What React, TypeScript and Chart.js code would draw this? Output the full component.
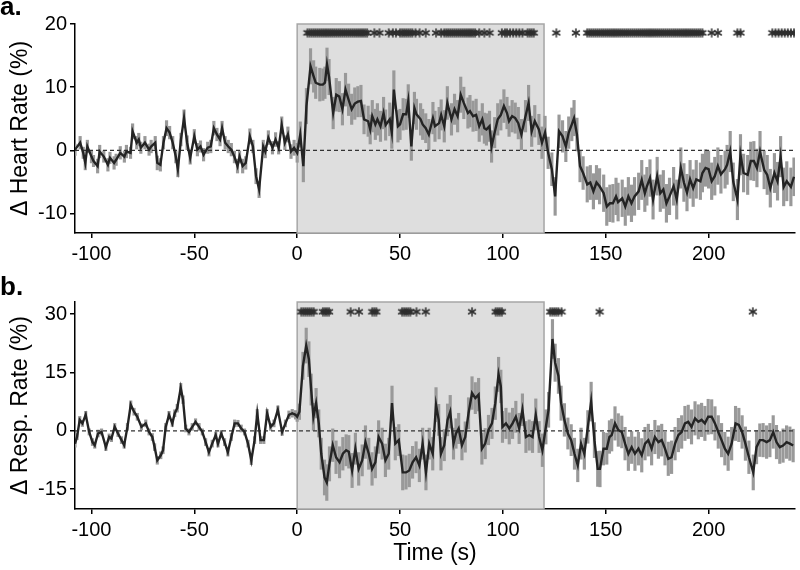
import React, { useEffect, useRef } from 'react';
import { Chart, registerables } from 'chart.js';

Chart.register(...registerables);

// ---------- data ----------
const X_TICKS = [-100, -50, 0, 50, 100, 150, 200];
const HR_TICKS = [-10, 0, 10, 20];
const RR_TICKS = [-15, 0, 15, 30];
const STIM_START = 0;
const STIM_END = 120;

// Panel a: heart rate
const HR_TIME = [
  -108, -105.5, -104, -103, -102, -100, -99, -97, -96, -94,
  -92, -91, -89, -88, -86, -84, -83, -81, -80, -78,
  -77, -76, -74, -72, -71, -69, -68, -66.5, -65, -63.5,
  -62, -60.5, -59, -58, -56.5, -55, -53.5, -52, -50, -48.5,
  -47, -45.5, -43.5, -42, -40.5, -39, -37.5, -36.5, -35, -33.5,
  -32, -30.5, -29, -28, -26.5, -25, -23, -21.5, -20, -18.5,
  -16.5, -15.5, -14, -12, -10.5, -9, -7.5, -6, -4.5, -3,
  -1.5, 0, 1.5, 3, 4.5, 6.5, 8, 9, 11, 12.5,
  13.5, 14.5, 15.5, 17.5, 19, 20.5, 22, 23.5, 25, 26.5,
  28, 29.5, 31, 32.5, 34.5, 35.5, 36.5, 38, 39, 40.5,
  42, 43, 45, 46, 47, 49, 50, 51.5, 53, 54,
  55.5, 57, 58, 60, 61, 62.5, 64, 66, 67, 69,
  70, 71.5, 73, 75, 76.5, 78, 79.5, 81, 83, 84,
  85.5, 87, 88.5, 90, 91, 92, 93.5, 94.5, 96, 97.5,
  99, 100.5, 102, 103, 104.5, 106, 107.5, 109, 111, 112.5,
  114, 115.5, 117.5, 119, 120.5, 122, 123.8, 125.4, 127.3, 129,
  130.6, 132, 133.5, 134.6, 136, 137.5, 139, 141, 142.5, 144,
  145.5, 147, 149, 150.5, 152, 153.5, 155, 156, 158, 159.5,
  161, 162.5, 164, 166, 167.5, 169, 170, 171.5, 173, 175,
  176.5, 178, 179.5, 181, 183, 184.5, 186.5, 188, 189.5, 191,
  192.5, 194, 196, 197, 198.5, 200, 201.5, 203, 204.5, 206,
  208, 209, 210.5, 212, 214, 215.5, 217, 219, 220.5, 222,
  223.5, 225, 227, 228.5, 230, 232, 233.5, 235, 236.5, 238,
  240, 241.5,
];
const HR_MEAN = [
  0.1, 1.2, -0.4, -2.0, 0.6, -1.0, -1.7, -2.5, -0.2, -1.0,
  -2.3, -1.2, -2.0, -1.5, -0.4, -1.0, -0.2, -0.4, 3.0, 1.2,
  1.7, 0.4, 1.2, 0.1, 0.6, 1.2, -2.0, -2.3, 1.2, 3.5,
  2.8, 1.2, -1.0, -3.0, 1.7, 5.1, 1.2, -1.2, 2.2, 0.1,
  0.6, -0.7, 0.4, 0.6, 3.5, 2.5, 1.7, 3.5, 1.2, 0.6,
  0.1, -1.0, -2.5, -1.0, -2.5, -2.0, 2.2, 0.6, -4.1, -6.2,
  0.6, -0.2, 2.0, 0.4, 1.7, 0.4, 4.0, 1.2, 2.5, -0.2,
  0.4, -0.4, 2.5, -2.5, 7.0, 13.3, 11.7, 10.7, 10.4, 10.4,
  10.7, 13.6, 11.6, 5.9, 8.8, 8.5, 6.5, 9.6, 8.0, 6.5,
  7.4, 7.7, 7.8, 4.9, 4.6, 3.3, 5.4, 4.1, 4.9, 3.8,
  5.9, 4.0, 4.9, 2.8, 9.6, 3.8, 4.1, 5.7, 5.7, 7.8,
  0.6, 6.7, 5.7, 4.9, 4.1, 3.5, 2.5, 5.1, 3.8, 4.3,
  5.6, 3.8, 7.5, 4.9, 6.5, 5.4, 8.8, 7.5, 5.9, 6.2,
  5.4, 5.6, 3.8, 4.9, 3.5, 3.3, 3.8, 0.6, 2.8, 4.9,
  5.6, 7.0, 5.9, 4.6, 5.4, 5.1, 4.3, 2.5, 5.4, 7.5,
  3.0, 4.6, 3.3, 1.2, 2.8, -0.4, -3.0, -7.3, 3.0, 2.2,
  0.6, 2.8, 4.1, 5.1, 2.5, -2.5, -3.6, -5.4, -5.1, -6.5,
  -5.1, -5.7, -6.8, -8.9, -8.4, -8.4, -7.3, -8.2, -7.6, -8.9,
  -7.3, -8.4, -7.3, -6.5, -4.7, -6.8, -5.7, -4.4, -7.8, -4.1,
  -6.8, -6.2, -8.4, -7.3, -5.7, -7.8, -2.8, -5.1, -6.7, -4.6,
  -6.0, -4.6, -4.9, -3.6, -2.8, -3.0, -4.9, -4.1, -2.5, -3.8,
  -3.0, -2.3, -0.2, -5.0, -7.8, -0.7, -3.6, -3.9, -1.7, -1.7,
  -2.8, -0.2, -3.1, -3.9, -6.0, -3.6, -4.9, -1.0, -5.8, -4.9,
  -5.8, -4.2,
];
const HR_SEM = [
  0.9, 1.0, 0.9, 1.1, 1.0, 1.0, 0.9, 1.1, 1.0, 0.9,
  1.0, 0.9, 1.0, 0.9, 1.0, 0.9, 1.0, 0.9, 1.2, 1.0,
  1.0, 0.9, 1.0, 0.9, 1.0, 1.0, 1.1, 1.0, 1.0, 1.2,
  1.0, 1.0, 1.0, 1.2, 1.0, 1.3, 1.1, 1.0, 1.1, 1.0,
  0.9, 1.0, 0.9, 1.0, 1.1, 1.0, 1.0, 1.1, 1.0, 1.0,
  1.0, 1.0, 1.1, 1.0, 1.1, 1.0, 1.2, 1.0, 1.2, 1.3,
  1.0, 1.0, 1.1, 1.0, 1.1, 1.0, 1.3, 1.1, 1.2, 1.1,
  1.2, 1.5, 2.0, 2.5, 2.8, 2.8, 2.5, 2.5, 2.6, 2.5,
  2.5, 2.6, 2.8, 2.5, 2.6, 2.4, 2.5, 2.6, 2.5, 2.4,
  2.5, 2.4, 2.5, 2.3, 2.4, 2.3, 2.5, 2.4, 2.5, 2.4,
  2.5, 2.4, 2.6, 2.5, 3.0, 2.5, 2.4, 2.5, 2.4, 2.6,
  2.2, 2.5, 2.4, 2.5, 2.4, 2.3, 2.4, 2.5, 2.4, 2.5,
  2.4, 2.5, 2.6, 2.5, 2.4, 2.5, 2.8, 2.5, 2.4, 2.5,
  2.4, 2.5, 2.4, 2.5, 2.4, 2.5, 2.4, 2.5, 2.4, 2.5,
  2.4, 2.6, 2.5, 2.4, 2.5, 2.4, 2.5, 2.4, 2.5, 2.8,
  2.4, 2.5, 2.4, 2.5, 2.6, 2.5, 2.6, 3.0, 2.6, 2.5,
  2.4, 2.5, 2.6, 2.8, 2.6, 2.5, 2.6, 2.8, 2.7, 2.8,
  2.7, 2.8, 2.9, 3.0, 2.9, 3.0, 2.9, 3.0, 2.9, 3.0,
  3.0, 2.9, 3.0, 2.9, 3.1, 2.9, 3.0, 2.9, 3.1, 3.0,
  2.9, 3.0, 3.0, 2.9, 3.0, 3.1, 3.2, 3.0, 2.9, 3.0,
  2.9, 3.0, 2.9, 3.0, 2.9, 3.0, 2.9, 3.0, 2.9, 3.0,
  3.0, 3.1, 3.2, 3.0, 3.2, 3.2, 3.0, 3.1, 3.0, 3.1,
  3.0, 3.2, 3.0, 3.1, 3.0, 3.1, 3.0, 3.2, 3.0, 3.1,
  3.0, 3.0,
];
const HR_STARS = [
  5, 6, 7, 8, 9, 10, 11, 12, 13, 14, 15, 16, 17, 18, 19, 20, 21, 22, 23, 24,
  25, 26, 27, 28, 29, 30, 31, 32, 33, 34,
  37.5, 40, 44.5, 46.5, 48, 50, 51, 52, 53, 54, 55, 56, 57.5, 59.5, 62.5,
  67.5, 70, 71.5, 72.5, 73.5, 74.5, 75.5, 76.5, 77.5, 78.5, 79.5, 80.5, 81.5,
  82.5, 83.5, 84.5, 85.5, 86.5, 88.5, 91, 93.5,
  99.5, 101, 102, 103.5, 105, 106.5, 108, 109.5, 112, 113, 114, 115,
  126, 135.5,
  141, 142, 143, 144, 145, 146, 147, 148, 149, 150, 151, 152, 153, 154, 155,
  156, 157, 158, 159, 160, 161, 162, 163, 164, 165, 166, 167, 168, 169, 170,
  171, 172, 173, 174, 175, 176, 177, 178, 179, 180, 181, 182, 183, 184, 185,
  186, 187, 188, 189, 190, 191, 192, 193, 194, 195, 196, 197,
  201.5, 204.5, 214, 215.5,
  231, 232.5, 234, 235.5, 237, 238.5, 240, 241.5,
];
const HR_STAR_LEVEL = 18.6;

// Panel b: respiration rate
const RR_TIME = [
  -108, -107, -105.7, -104.4, -102.8, -101.1, -99.5, -98.4, -96.8, -95.1,
  -93, -91.4, -90.3, -88.7, -87.1, -85.4, -84.1, -82.5, -80.9, -79.3,
  -77.7, -75.7, -73.6, -72, -70.4, -69.3, -68, -66.3, -65.2, -63.9,
  -62.3, -60.7, -59.5, -58.3, -56.6, -55.5, -54.2, -52.6, -51, -49.4,
  -47.7, -46.1, -44.5, -42.9, -41.3, -39.6, -38.5, -36.9, -35.3, -33.7,
  -32, -30.4, -28.8, -27.2, -25.6, -23.9, -22.3, -20.7, -19.4, -17.8,
  -16.2, -14.6, -12.9, -11.3, -9.4, -7.3, -5.7, -4, -2.4, -0.8,
  0, 1.1, 2.8, 4.4, 5.7, 6.8, 7.9, 9.2, 10.5, 11.7,
  13.3, 14.4, 15.7, 17.3, 18.9, 20.6, 22.2, 23.8, 25.1, 26.7,
  28.3, 29.9, 31.6, 33.2, 34.8, 36.4, 38, 39.6, 41.3, 42.9,
  44.5, 46.1, 47.7, 49.4, 51.3, 52.9, 54.5, 56.1, 57.8, 59.4,
  61, 62.6, 64.2, 65.9, 67.5, 68.8, 69.9, 71.5, 73.1, 74.4,
  76, 77.2, 78.5, 80.1, 81.7, 83.3, 85, 86.6, 88.2, 89.8,
  91.4, 93, 94.7, 96.3, 97.9, 99, 99.8, 101.5, 103.1, 104.7,
  106.3, 107.9, 109.5, 111.2, 112.8, 114.4, 116, 117.6, 119.2, 120.9,
  122.2, 124.1, 125.4, 127, 128.3, 129.9, 131.6, 133.2, 134.8, 136.4,
  138, 139.6, 141.3, 142.9, 144.5, 146.1, 147.2, 148.9, 150.5, 151.8,
  152.9, 154.5, 156.1, 157.8, 159.4, 161, 162.6, 164.2, 165.9, 167.5,
  169.1, 170.7, 172.3, 173.9, 175.6, 177.2, 178.8, 180.4, 182, 183.7,
  185.3, 186.9, 188.5, 190.1, 191.7, 193.4, 195, 196.6, 198.2, 199.8,
  201.5, 203.1, 204.7, 206.3, 207.9, 209.5, 211.2, 213.1, 214.7, 216.3,
  217.9, 219.6, 221.7, 223.3, 224.9, 226.5, 228.2, 229.8, 231.4, 233,
  234.6, 236.2, 237.9, 239.5, 241.1,
];
const RR_MEAN = [
  -3.3, -1.5, 2.8, 1.9, 4.1, -0.3, -2.9, -3.7, -0.7, -0.3,
  -4.2, -1.6, -2.0, 1.0, -0.7, -2.4, -3.7, 1.0, 6.7, 4.9,
  3.6, 1.0, 1.9, -0.3, -1.6, -4.2, -7.6, -6.3, -5.0, 1.0,
  4.1, 1.9, 4.5, 5.8, 11.0, 8.0, 0.6, -0.3, 1.0, 2.3,
  1.0, -0.3, -2.9, -5.5, -3.3, -1.1, -3.3, -0.7, -2.9, -5.5,
  -1.6, 1.9, 1.9, 0.6, -0.3, -3.3, -7.6, -2.4, 4.5, -2.4,
  -2.4, 4.5, 1.0, 1.9, 5.4, -0.3, 1.9, 4.1, 4.5, 4.1,
  3.6, 4.9, 16.7, 21.9, 18.4, 10.6, 3.6, 7.1, 1.9, -5.9,
  -12.0, -13.3, -8.5, -3.7, -6.8, -8.1, -5.9, -5.0, -5.4, -10.2,
  -4.6, -9.8, -7.6, -2.9, -5.9, -9.8, -8.1, -1.6, -3.3, -7.6,
  -5.9, 7.1, -3.3, -2.4, -10.7, -10.7, -10.2, -8.1, -6.8, -8.9,
  -3.3, -10.7, -3.3, -5.9, 6.7, 2.8, -5.9, -3.7, 2.8, 4.9,
  -3.3, -0.7, 0.6, -3.7, -1.6, 4.5, 9.7, 8.4, 9.3, -4.6,
  -3.3, 0.2, 1.9, 7.1, 14.5, 11.4, 1.0, 1.9, 0.6, 1.9,
  3.6, 0.6, 5.4, -1.6, -1.1, -1.6, 4.1, -1.6, -5.0, 1.0,
  5.4, 23.6, 17.5, 14.1, 7.1, 2.8, -0.7, -2.4, -5.9, -8.9,
  -3.3, -5.9, 1.0, 7.5, -2.4, -9.8, -9.8, -4.6, -4.6, -1.6,
  -1.1, 1.9, 0.2, -0.3, -3.3, -5.9, -4.2, -5.9, -4.6, -6.3,
  -3.3, -2.4, -4.6, -1.6, -2.9, -2.4, -4.6, -7.2, -6.8, -3.3,
  -1.1, -0.3, 1.9, 2.3, 1.0, 3.2, 2.3, 2.8, 1.9, 3.6,
  3.6, 1.9, -0.3, -2.4, -4.6, -5.9, -3.3, 1.9, 1.5, -0.3,
  -3.3, -6.8, -10.7, -4.2, -2.4, -2.4, -2.9, -2.4, -0.3, -2.9,
  -4.2, -3.8, -2.9, -3.3, -3.8,
];
const RR_SEM = [
  0.9, 0.8, 0.9, 0.8, 0.9, 0.8, 0.9, 0.8, 0.9, 0.8,
  0.9, 0.8, 0.8, 0.9, 0.8, 0.9, 0.8, 0.9, 1.0, 0.9,
  0.9, 0.8, 0.9, 0.8, 0.9, 0.9, 1.0, 0.9, 0.9, 0.9,
  0.9, 0.8, 0.9, 1.0, 1.2, 1.0, 0.9, 0.8, 0.9, 0.8,
  0.9, 0.8, 0.9, 1.0, 0.9, 0.8, 0.9, 0.8, 0.9, 1.0,
  0.9, 0.9, 0.8, 0.9, 0.8, 0.9, 1.1, 0.9, 1.0, 0.9,
  0.9, 1.0, 0.9, 0.9, 1.0, 0.9, 0.9, 1.0, 1.0, 1.1,
  1.2, 2.0, 3.5, 4.5, 4.5, 4.0, 3.5, 3.8, 3.5, 4.0,
  4.5, 4.6, 4.4, 4.2, 4.2, 4.0, 4.2, 4.0, 4.2, 4.4,
  4.0, 4.2, 4.0, 4.2, 4.0, 4.2, 4.0, 4.2, 4.0, 4.2,
  4.0, 4.4, 4.2, 4.0, 4.5, 4.3, 4.2, 4.1, 4.0, 4.2,
  4.0, 4.5, 4.0, 4.2, 4.4, 4.0, 4.2, 4.0, 4.1, 4.2,
  4.0, 3.8, 3.9, 3.8, 3.9, 4.0, 4.2, 4.0, 4.2, 4.0,
  3.9, 3.8, 3.9, 4.2, 4.4, 4.2, 4.0, 3.9, 4.0, 3.9,
  4.0, 3.9, 4.1, 4.0, 3.9, 4.0, 4.1, 4.0, 4.2, 4.4,
  4.5, 5.0, 4.8, 4.5, 4.4, 4.2, 4.0, 4.0, 4.0, 4.2,
  4.0, 4.0, 4.2, 5.0, 4.5, 4.5, 4.6, 4.2, 4.0, 4.2,
  4.1, 4.3, 4.2, 4.1, 4.2, 4.3, 4.2, 4.3, 4.2, 4.3,
  4.2, 4.1, 4.2, 4.3, 4.2, 4.1, 4.2, 4.3, 4.2, 4.2,
  4.3, 4.2, 4.4, 4.3, 4.4, 4.3, 4.4, 4.3, 4.4, 4.5,
  4.4, 4.3, 4.2, 4.3, 4.2, 4.3, 4.2, 4.4, 4.3, 4.2,
  4.3, 4.2, 4.5, 4.3, 4.2, 4.3, 4.2, 4.3, 4.2, 4.3,
  4.2, 4.3, 4.2, 4.3, 4.2,
];
const RR_STARS = [
  2, 3, 4, 5, 6, 7, 8, 12.5, 13.5, 14.5, 15.5, 26, 30, 36.5, 37.5, 38.5,
  51, 52, 53, 54, 55, 58, 62.5, 85, 96.5, 97.5, 98.5, 99.5,
  123, 124, 125, 126, 127, 128.5, 147, 221.5,
];
const RR_STAR_LEVEL = 30.6;

// ---------- styling ----------
const X_MIN = -108;
const X_MAX = 242;
const FONT = 'Liberation Sans, Arial, Helvetica, sans-serif';

function makeAsterisk(): HTMLCanvasElement {
  const c = document.createElement('canvas');
  c.width = 10;
  c.height = 10;
  const ctx = c.getContext('2d')!;
  ctx.strokeStyle = '#2e2e2e';
  ctx.lineWidth = 1.5;
  ctx.lineCap = 'round';
  const cx = 5, cy = 5, r = 4;
  for (const a of [90, 30, 150]) {
    const rad = (a * Math.PI) / 180;
    ctx.beginPath();
    ctx.moveTo(cx - r * Math.cos(rad), cy - r * Math.sin(rad));
    ctx.lineTo(cx + r * Math.cos(rad), cy + r * Math.sin(rad));
    ctx.stroke();
  }
  return c;
}

type PanelProps = {
  top: number;
  times: number[];
  means: number[];
  sems: number[];
  stars: number[];
  starLevel: number;
  yMin: number;
  yMax: number;
  yTicks: number[];
  yTitle: string;
  showXTitle: boolean;
  padTop: number;
  xAxisHeight: number;
};

function Panel(p: PanelProps) {
  const ref = useRef<HTMLCanvasElement | null>(null);

  useEffect(() => {
    if (!ref.current) return;
    const star = makeAsterisk();
    const shade = {
      id: 'shade',
      beforeDatasetsDraw(chart: any) {
        const { ctx, chartArea, scales } = chart;
        const x0 = scales.x.getPixelForValue(STIM_START);
        const x1 = scales.x.getPixelForValue(STIM_END);
        ctx.save();
        ctx.fillStyle = '#dedede';
        ctx.fillRect(x0, chartArea.top, x1 - x0, chartArea.bottom - chartArea.top);
        ctx.strokeStyle = '#a6a6a6';
        ctx.lineWidth = 1.5;
        ctx.strokeRect(x0, chartArea.top, x1 - x0, chartArea.bottom - chartArea.top);
        ctx.restore();
      },
    };

    const errData = p.times.map((t, i) => ({ x: t, y: [p.means[i] - p.sems[i], p.means[i] + p.sems[i]] }));
    const lineData = p.times.map((t, i) => ({ x: t, y: p.means[i] }));
    const starData = p.stars.map((t) => ({ x: t, y: p.starLevel }));

    const tickFont = { family: FONT, size: 20 };
    const titleFont = { family: FONT, size: 23 };

    const chart = new Chart(ref.current, {
      type: 'line',
      data: {
        datasets: [
          {
            type: 'bar',
            data: errData as any,
            backgroundColor: '#999999',
            borderWidth: 0,
            barThickness: 2.5,
            order: 4,
          } as any,
          {
            type: 'line',
            data: [{ x: X_MIN, y: 0 }, { x: X_MAX, y: 0 }],
            borderColor: '#333',
            borderWidth: 1.2,
            borderDash: [4, 3],
            pointRadius: 0,
            order: 3,
          },
          {
            type: 'line',
            data: lineData,
            borderColor: '#242424',
            borderWidth: 2.4,
            pointRadius: 0,
            tension: 0,
            order: 2,
          },
          {
            type: 'line',
            data: starData,
            showLine: false,
            pointStyle: star as any,
            pointRadius: 4,
            order: 1,
          },
        ],
      },
      options: {
        responsive: false,
        animation: false,
        devicePixelRatio: 1,
        layout: { padding: { top: p.padTop, right: 3, left: 0, bottom: 0 } },
        plugins: { legend: { display: false }, tooltip: { enabled: false } },
        scales: {
          x: {
            type: 'linear',
            min: X_MIN,
            max: X_MAX,
            offset: false,
            z: 1,
            afterBuildTicks: (s: any) => {
              s.ticks = X_TICKS.map((v) => ({ value: v }));
            },
            afterFit: (s: any) => {
              s.height = p.xAxisHeight;
            },
            grid: {
              offset: false,
              drawOnChartArea: false,
              drawTicks: true,
              tickLength: 5,
              color: '#000',
              lineWidth: 1.5,
            },
            border: { display: true, color: '#000', width: 1.5 },
            ticks: { color: '#000', font: tickFont, padding: 4, maxRotation: 0, autoSkip: false },
            title: {
              display: p.showXTitle,
              text: 'Time (s)',
              color: '#000',
              font: titleFont,
              padding: { top: 0, bottom: 3 },
            },
          },
          y: {
            type: 'linear',
            min: p.yMin,
            max: p.yMax,
            z: 1,
            afterBuildTicks: (s: any) => {
              s.ticks = p.yTicks.map((v) => ({ value: v }));
            },
            afterFit: (s: any) => {
              s.width = 75;
            },
            grid: {
              offset: false,
              drawOnChartArea: false,
              drawTicks: true,
              tickLength: 5,
              color: '#000',
              lineWidth: 1.5,
            },
            border: { display: true, color: '#000', width: 1.5 },
            ticks: { color: '#000', font: tickFont, padding: 3 },
            title: {
              display: true,
              text: p.yTitle,
              color: '#000',
              font: titleFont,
              padding: { top: 7, bottom: 0 },
            },
          },
        },
      } as any,
      plugins: [shade],
    });
    return () => chart.destroy();
  }, []);

  return (
    <canvas
      ref={ref}
      width={800}
      height={285}
      style={{ position: 'absolute', left: 0, top: p.top, display: 'block', width: 800, height: 285 }}
    />
  );
}

const labelStyle: React.CSSProperties = {
  position: 'absolute',
  left: 0,
  fontFamily: FONT,
  fontWeight: 'bold',
  fontSize: 26,
  lineHeight: '26px',
  color: '#000',
};

export default function App() {
  return (
    <div style={{ position: 'absolute', left: 0, top: 0, width: 800, height: 570, background: '#fff', overflow: 'hidden' }}>
      <Panel
        top={0}
        times={HR_TIME}
        means={HR_MEAN}
        sems={HR_SEM}
        stars={HR_STARS}
        starLevel={HR_STAR_LEVEL}
        yMin={-13.1}
        yMax={20}
        yTicks={HR_TICKS}
        yTitle="Δ Heart Rate (%)"
        showXTitle={false}
        padTop={24}
        xAxisHeight={52}
      />
      <Panel
        top={285}
        times={RR_TIME}
        means={RR_MEAN}
        sems={RR_SEM}
        stars={RR_STARS}
        starLevel={RR_STAR_LEVEL}
        yMin={-20.1}
        yMax={33.1}
        yTicks={RR_TICKS}
        yTitle="Δ Resp. Rate (%)"
        showXTitle={true}
        padTop={17}
        xAxisHeight={61}
      />
      <div style={{ ...labelStyle, top: -7 }}>a.</div>
      <div style={{ ...labelStyle, top: 273 }}>b.</div>
    </div>
  );
}
